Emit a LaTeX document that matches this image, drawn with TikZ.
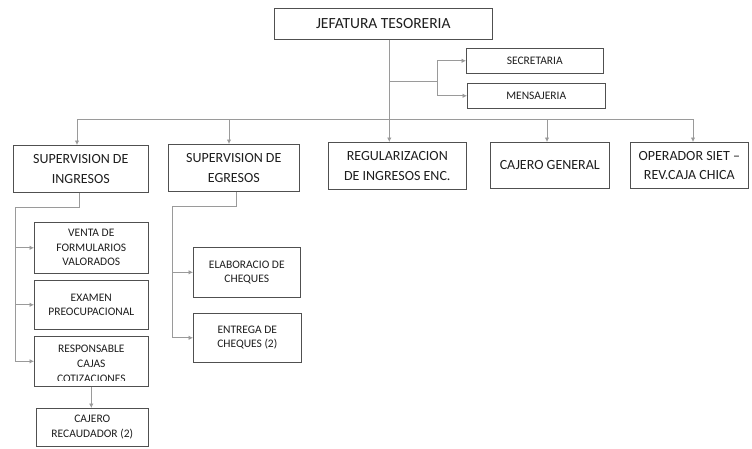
\documentclass[tikz,border=0pt]{standalone}
\usepackage{fontspec}
\setmainfont{Carlito}
\usetikzlibrary{arrows.meta}
\definecolor{linegray}{HTML}{9A9A9A}
\definecolor{boxline}{HTML}{505050}
\definecolor{txt}{HTML}{1E1E1E}
\begin{document}
\begin{tikzpicture}[x=1pt,y=-1pt,
  box/.style={draw=boxline, line width=0.6pt, align=center, inner sep=1pt,
    anchor=north west, text=txt, font=\fontsize{14}{19.5}\selectfont},
  sbox/.style={box, font=\fontsize{11.5}{14.5}\selectfont},
  conn/.style={draw=linegray, line width=0.8pt},
  arr/.style={conn, -{Latex[length=4.5pt,width=4.5pt]}, color=linegray}]
\useasboundingbox[fill=white] (0,0) rectangle (752,448);

% top
\node[box, minimum width=218, minimum height=31, font=\fontsize{15.5}{18}\selectfont] (jef) at (274,8) {JEFATURA TESORERIA};
\node[sbox, minimum width=137, minimum height=25] (sec) at (466,48) {SECRETARIA};
\node[sbox, minimum width=138, minimum height=25] (mens) at (467,83) {MENSAJERIA};

% level 2
\node[box, minimum width=135, minimum height=47] (si) at (13,145) {SUPERVISION DE\\INGRESOS};
\node[box, minimum width=131, minimum height=47] (se) at (168,144) {SUPERVISION DE\\EGRESOS};
\node[box, minimum width=138, minimum height=47] (reg) at (328,142) {REGULARIZACION\\DE INGRESOS ENC.};
\node[box, minimum width=119, minimum height=46] (cg) at (490,142) {CAJERO GENERAL};
\node[box, minimum width=118, minimum height=46] (op) at (630,142) {OPERADOR SIET –\\REV.CAJA CHICA};

% level 3 ingresos
\node[sbox, minimum width=114, minimum height=51] (venta) at (34,222) {VENTA DE\\FORMULARIOS\\VALORADOS};
\node[sbox, minimum width=114, minimum height=49] (exam) at (34,280) {EXAMEN\\PREOCUPACIONAL};
\node[sbox, minimum width=114, minimum height=50] (resp) at (34,336) {};
\begin{scope}
  \clip ([xshift=1pt,yshift=-1pt]resp.north west) rectangle ([xshift=-1pt,yshift=6pt]resp.south east);
  \node[anchor=north, align=center, inner sep=0pt, text=txt, font=\fontsize{11.5}{15}\selectfont] (respt) at ([yshift=-9pt]resp.north) {RESPONSABLE\\CAJAS\\COTIZACIONES};
\end{scope}
\node[sbox, minimum width=112, minimum height=38] (cajr) at (36,408) {CAJERO\\RECAUDADOR (2)};

% level 3 egresos
\node[sbox, minimum width=107, minimum height=50] (elab) at (193,247) {ELABORACIO DE\\CHEQUES};
\node[sbox, minimum width=108, minimum height=49] (entr) at (193,313) {ENTREGA DE\\CHEQUES (2)};

% connectors: trunk and staff
\coordinate (jt) at ([xshift=6pt]jef.south);
\coordinate (br) at (437,81);
\draw[arr] (jt) -- (jt |- reg.north);
\draw[conn] (jt |- br) -- (br);
\draw[arr] (br) |- (sec.west);
\draw[arr] (br) |- (mens.west);

% bus
\coordinate (b1) at (77,119);
\coordinate (b2) at (229,119);
\coordinate (b4) at (547,119);
\coordinate (b5) at (693,119);
\draw[conn] (b1) -- (b5);
\draw[arr] (b1) -- (b1 |- si.north);
\draw[arr] (b2) -- (b2 |- se.north);
\draw[arr] (b4) -- (b4 |- cg.north);
\draw[arr] (b5) -- (b5 |- op.north);

% ingresos children
\coordinate (ia) at (79,207);
\coordinate (ib) at (15,207);
\draw[conn] (ia |- si.south) -- (ia) -- (ib);
\draw[arr] (ib) |- (venta.west);
\draw[arr] (ib) |- (exam.west);
\draw[arr] (ib) |- (resp.west);
\draw[arr] (resp.south) -- (resp.south |- cajr.north);

% egresos children
\coordinate (ea) at (236,206);
\coordinate (eb) at (172,206);
\draw[conn] (ea |- se.south) -- (ea) -- (eb);
\draw[arr] (eb) |- (elab.west);
\draw[arr] (eb) |- (entr.west);
\end{tikzpicture}
\end{document}
